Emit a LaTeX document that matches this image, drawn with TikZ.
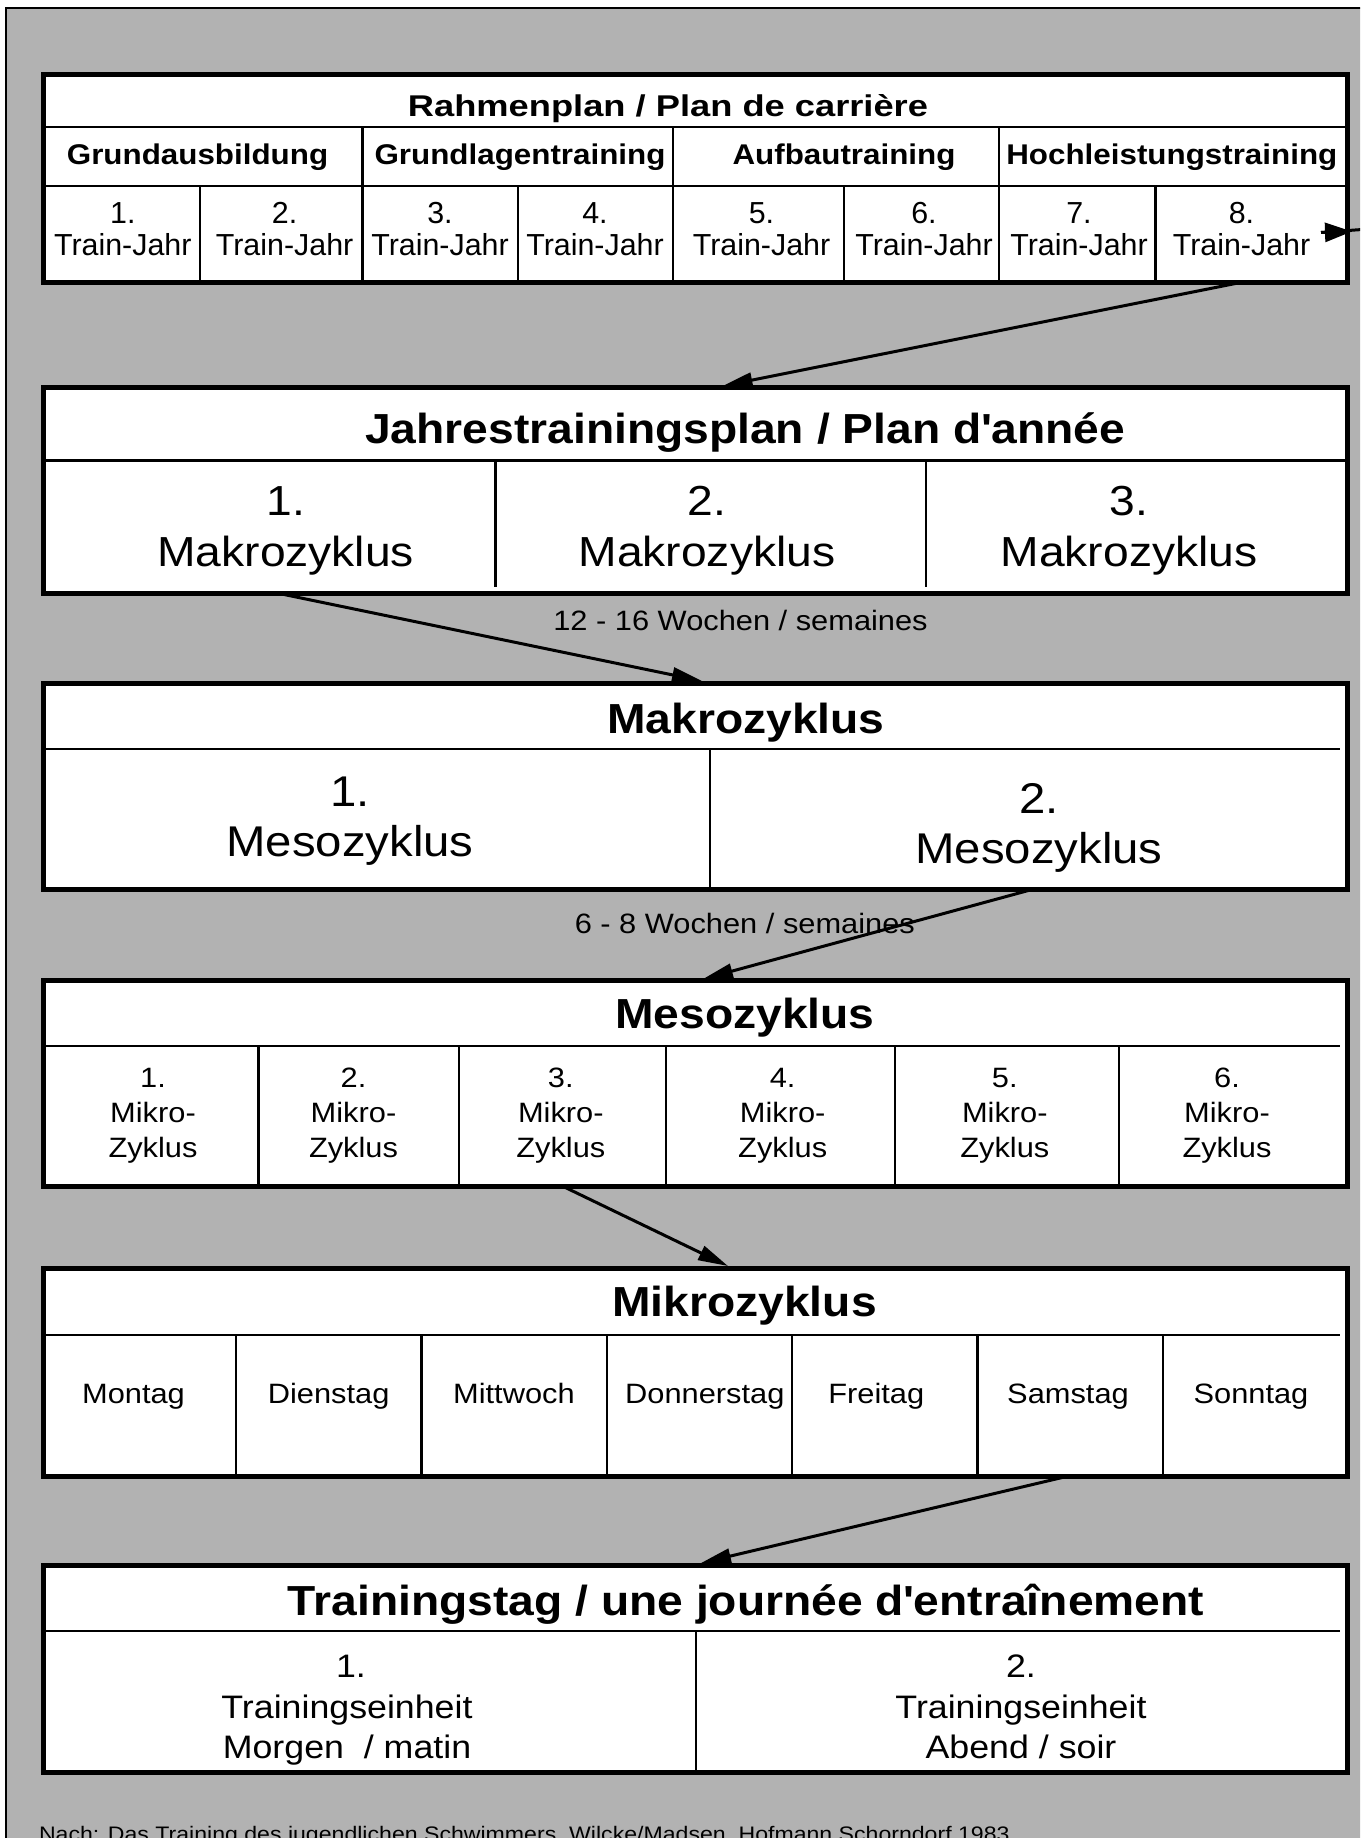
\documentclass[tikz,border=0pt]{standalone}
\usepackage{graphicx}
\usepackage{fontspec}
\setmainfont{Liberation Sans}[FakeStretch=1.1]
\newfontfamily\plainsf{Liberation Sans}
\usetikzlibrary{arrows.meta}
\definecolor{bggray}{RGB}{178,178,178}
\newcommand\fsz[1]{\fontsize{#1}{#1}\selectfont}
\begin{document}
\begin{tikzpicture}[x=1pt,y=-1pt,
  txt/.style={anchor=base,inner sep=0pt,outer sep=0pt},
  boxnode/.style={draw=black,line width=5pt,fill=white,anchor=north west,inner sep=0pt,outer sep=0pt,minimum width=1304pt},
  divline/.style={draw=black,line width=2.2pt},
  conn/.style={line width=3pt,-{Triangle[length=30pt,width=15pt]}},
  fsmall/.style={font=\fsz{28}},
  fbig/.style={font=\fsz{42}},
  fbigb/.style={font=\fsz{42}\bfseries}]
\useasboundingbox (0,0) rectangle (1360,1838);
\clip (0,0) rectangle (1360,1838);
\fill[white] (0,0) rectangle (1360,1838);
\draw[fill=bggray,line width=2pt] (6,8) rectangle (1420,1900);

% ---------- Rahmenplan ----------
\node[boxnode,minimum height=207.5pt] (rp) at (43.8,75) {};
\draw[divline] (43.8,127.3) -- (1347.8,127.3);
\draw[divline] (43.8,186) -- (1347.8,186);
\foreach \x in {362.5,673,999.3} \draw[divline] (\x,127.3) -- (\x,282.5);
\foreach \x in {199.6,518.3,844,1155.5} \draw[divline] (\x,186) -- (\x,282.5);
\node[txt,font=\fsz{30}\bfseries] (rpt) at (668,116.7) {\resizebox{520pt}{\height}{Rahmenplan / Plan de carrière}};
\node[txt,font=\fsz{28.5}\bfseries] (ph1) at (197.5,165) {Grundausbildung};
\node[txt,font=\fsz{28.5}\bfseries] (ph2) at (520,165) {Grundlagentraining};
\node[txt,font=\fsz{28.5}\bfseries] (ph3) at (844,165) {Aufbautraining};
\node[txt,font=\fsz{28.5}\bfseries] (ph4) at (1171.8,165) {Hochleistungstraining};
\foreach \x [count=\i] in {122.8,284.6,440,595,761.5,924,1079,1241.5} {
  \node[txt,font=\plainsf\fsz{30.4}] (yn\i) at (\x,223.3) {\i.};
  \node[txt,font=\plainsf\fsz{30.4}] (yt\i) at (\x,255.5) {Train-Jahr};
}
\coordinate (sa) at (1321,232.5);
\coordinate (sb) at (1352,231.5);
\coordinate (sc) at (1362,229.5);
\draw[line width=3pt] (sa) -- (sc);
\draw[line width=3pt,-{Triangle[length=27pt,width=19pt]}] (sa) -- (sb);

% ---------- Jahrestrainingsplan ----------
\node[boxnode,minimum height=205.5pt] (jp) at (43.8,387.5) {};
\draw[divline] (43.8,460.5) -- (1347.8,460.5);
\foreach \x in {495.5,925.6} \draw[divline] (\x,460.5) -- (\x,587.3);
\node[txt,fbigb] (jpt) at (745,443.3) {Jahrestrainingsplan / Plan d\textquotesingle année};
\foreach \x [count=\i] in {285.7,707,1129} {
  \node[txt,fbig] (mn\i) at (\x,515.5) {\i.};
  \node[txt,fbig] (mt\i) at (\x,566.7) {Makrozyklus};
}
\node[txt,fsmall] (lab1) at (740.5,630) {12 - 16 Wochen / semaines};

% ---------- Makrozyklus ----------
\node[boxnode,minimum height=206pt] (mak) at (43.8,683.5) {};
\draw[divline] (43.8,749.3) -- (1340,749.3);
\draw[divline] (710,749.3) -- (710,889.5);
\node[txt,fbigb] (makt) at (746,733.3) {Makrozyklus};
\node[txt,font=\fsz{43}] (ms1n) at (350,806.7) {1.};
\node[txt,font=\fsz{43}] (ms1t) at (350,856.7) {Mesozyklus};
\node[txt,font=\fsz{43}] (ms2n) at (1039,813.3) {2.};
\node[txt,font=\fsz{43}] (ms2t) at (1039,863.3) {Mesozyklus};
\node[txt,fsmall] (lab2) at (744.8,933.3) {6 - 8 Wochen / semaines};

% ---------- Mesozyklus ----------
\node[boxnode,minimum height=206.2pt] (mes) at (43.8,980.5) {};
\draw[divline] (43.8,1046.3) -- (1340,1046.3);
\foreach \x in {258.5,458.8,666,895,1118.8} \draw[divline] (\x,1046.3) -- (\x,1186.7);
\node[txt,fbigb] (mest) at (745,1028.3) {Mesozyklus};
\foreach \x [count=\i] in {153,353.5,560.8,782.7,1004.8,1227} {
  \node[txt,fsmall] (kn\i) at (\x,1087) {\i.};
  \node[txt,fsmall] (ka\i) at (\x,1122) {Mikro-};
  \node[txt,fsmall] (kb\i) at (\x,1157.3) {Zyklus};
}

% ---------- Mikrozyklus ----------
\node[boxnode,minimum height=207.7pt] (mik) at (43.8,1268.3) {};
\draw[divline] (43.8,1335.3) -- (1340,1335.3);
\foreach \x in {236,421.5,607,792,977.5,1163} \draw[divline] (\x,1335.3) -- (\x,1476);
\node[txt,fbigb] (mikt) at (744.5,1316.7) {Mikrozyklus};
\foreach \x/\d [count=\i] in {133.5/Montag,328.7/Dienstag,513.9/Mittwoch,704.8/Donnerstag,876.3/Freitag,1068/Samstag,1251/Sonntag}
  \node[txt,fsmall] (d\i) at (\x,1403.3) {\d};

% ---------- Trainingstag ----------
\node[boxnode,minimum height=207.5pt] (td) at (43.8,1565) {};
\draw[divline] (43.8,1631.3) -- (1340,1631.3);
\draw[divline] (695.6,1631.3) -- (695.6,1772.5);
\node[txt,fbigb] (tdt) at (745.9,1615) {Trainingstag / une journée d\textquotesingle entraînement};
\node[txt,font=\fsz{32.5}] (te1n) at (351,1677.5) {1.};
\node[txt,font=\fsz{32.5}] (te1t) at (347,1718.3) {Trainingseinheit};
\node[txt,font=\fsz{32.5}] (te1z) at (347,1758.3) {Morgen~ / matin};
\node[txt,font=\fsz{32.5}] (te2n) at (1021,1677.5) {2.};
\node[txt,font=\fsz{32.5}] (te2t) at (1021,1718.3) {Trainingseinheit};
\node[txt,font=\fsz{32.5}] (te2z) at (1021,1758.3) {Abend / soir};

% ---------- footer ----------
\node[txt,anchor=base west,font=\fsz{21}] (foot) at (39,1841.7) {Nach: Das Training des jugendlichen Schwimmers, Wilcke/Madsen, Hofmann Schorndorf 1983};

% ---------- connectors ----------
\coordinate (a1s) at (1240.4,282.5);
\coordinate (a1e) at (722.5,386);
\coordinate (a2s) at (276.8,593);
\coordinate (a2e) at (702,681);
\coordinate (a3s) at (1032,889.5);
\coordinate (a3e) at (703,979);
\coordinate (a4s) at (563.7,1186.7);
\coordinate (a4e) at (728,1266);
\coordinate (a5s) at (1068.5,1476);
\coordinate (a5e) at (701,1563);
\draw[conn] (a1s) -- (a1e);
\draw[conn] (a2s) -- (a2e);
\draw[conn] (a3s) -- (a3e);
\draw[conn] (a4s) -- (a4e);
\draw[conn] (a5s) -- (a5e);
\end{tikzpicture}
\end{document}
